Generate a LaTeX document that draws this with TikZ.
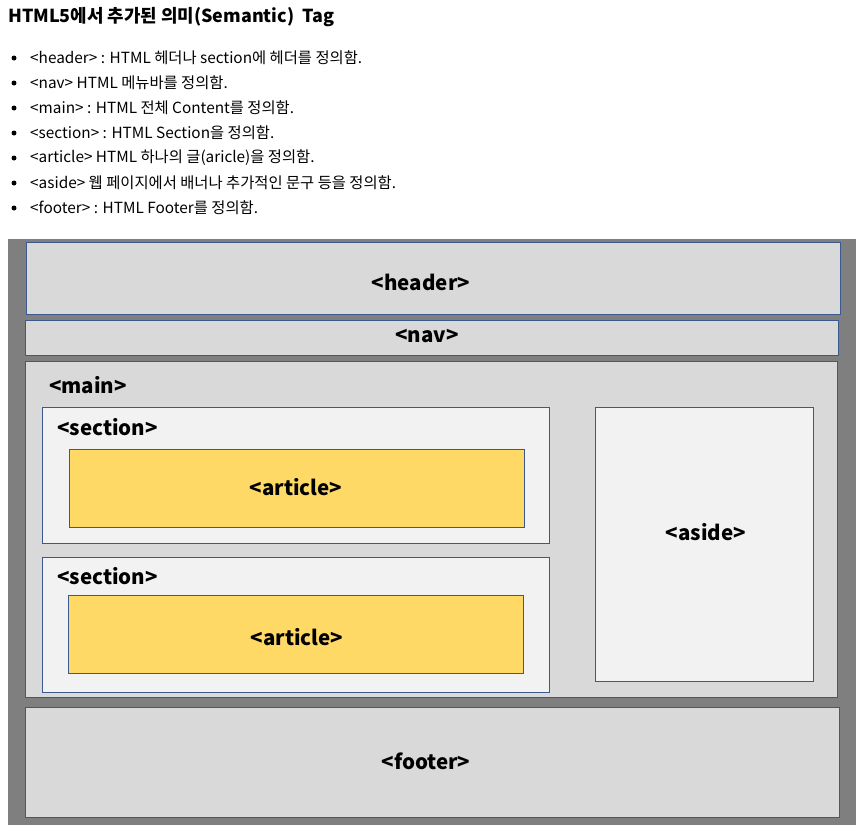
\documentclass[tikz,border=0pt]{standalone}
\usepackage{fontspec}
\setmainfont{Noto Sans CJK KR}
\usetikzlibrary{positioning}
\definecolor{pagegray}{HTML}{7F7F7F}
\definecolor{boxgray}{HTML}{D9D9D9}
\definecolor{lightgray}{HTML}{F2F2F2}
\definecolor{articleyellow}{HTML}{FFD966}
\definecolor{edgeblue}{HTML}{3A5A8F}
\tikzset{
  every picture/.style={
    x=1pt, y=-1pt
  },
  tagbox/.style={
    draw=edgeblue, line width=1pt, fill=boxgray,
    inner sep=0pt
  },
  innerbox/.style={
    tagbox, fill=lightgray
  },
  articlebox/.style={
    tagbox, fill=articleyellow
  },
  taglabel/.style={
    inner sep=0pt,
    font=\fontsize{20.5}{24}\selectfont\bfseries
  },
  item/.style={
    anchor=west, inner sep=0pt,
    font=\fontsize{15.35}{18}\selectfont
  },
  dot/.style={
    circle, fill, minimum width=5pt, inner sep=0pt
  }
}

\begin{document}
\begin{tikzpicture}
      \useasboundingbox (0,0) rectangle (860,835);
      % title and list
      \node[anchor=west, inner sep=0pt, font=\fontsize{17.9}{21}\selectfont\bfseries]
        (title) at (8,17) {HTML5에서 추가된 의미(Semantic)\ \ Tag};
      \foreach \txt [count=\i] in {
          {<header> : HTML 헤더나 section에 헤더를 정의함.},
          {<nav> HTML 메뉴바를 정의함.},
          {<main> : HTML 전체 Content를 정의함.},
          {<section> : HTML Section을 정의함.},
          {<article> HTML 하나의 글(aricle)을 정의함.},
          {<aside> 웹 페이지에서 배너나 추가적인 문구 등을 정의함.},
          {<footer> : HTML Footer를 정의함.}} {
        \node[dot] (bullet\i) at (14,33+25*\i) {};
        \node[item] (item\i) at (30,33+25*\i) {\txt};
      }
      % page layout
      \fill[pagegray] (8,239) rectangle (856,825);
      \node[tagbox, minimum width=814, minimum height=72] (header) at (433,278) {};
      \node[taglabel] (headerlabel) at (421,282) {<header>};
      \node[tagbox, minimum width=813, minimum height=35] (nav) at (431.5,337.5) {};
      \node[taglabel] (navlabel) at (427,336) {<nav>};
      \node[tagbox, minimum width=812, minimum height=336] (main) at (431,529) {};
      \node[taglabel, anchor=west] (mainlabel) at (49,385) {<main>};
      \node[innerbox, minimum width=507, minimum height=136] (section1) at (295.5,475) {};
      \node[taglabel, anchor=west] (sectionlabel1) at (57,427) {<section>};
      \node[articlebox, minimum width=455, minimum height=78] (article1) at (296.5,488) {};
      \node[taglabel] (articlelabel1) at (296,487) {<article>};
      \node[innerbox, minimum width=507, minimum height=135] (section2) at (295.5,624.5) {};
      \node[taglabel, anchor=west] (sectionlabel2) at (57,576) {<section>};
      \node[articlebox, minimum width=455, minimum height=78] (article2) at (295.5,634) {};
      \node[taglabel] (articlelabel2) at (297,637) {<article>};
      \node[innerbox, minimum width=218, minimum height=274] (aside) at (704,544) {};
      \node[taglabel] (asidelabel) at (706,532) {<aside>};
      \node[tagbox, minimum width=814, minimum height=110] (footer) at (432,762) {};
      \node[taglabel] (footerlabel) at (426,761) {<footer>};
\end{tikzpicture}
\end{document}
